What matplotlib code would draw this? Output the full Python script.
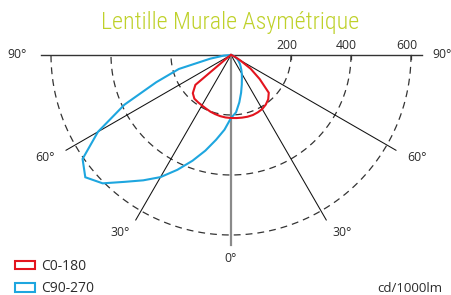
import numpy as np
import matplotlib
matplotlib.use("Agg")
import matplotlib.pyplot as plt
from matplotlib.patches import Patch
from matplotlib import font_manager as fm

# ---- data (cd/1000lm), angles measured from nadir ----
ANGLES = [0, 5, 10, 15, 20, 25, 30, 35, 40, 45, 50, 55, 60, 65, 70, 75, 80, 85, 90]
C0 = [210, 211, 212, 213, 213, 211, 208, 202, 193, 178, 125, 80, 35, 15, 5, 2, 0, 0, 0]
C180 = [210, 209, 207, 204, 201, 197, 194, 192, 190, 180, 155, 10, 0, 0, 0, 0, 0, 0, 0]
C90 = [210, 192, 160, 130, 105, 86, 72, 60, 50, 42, 34, 27, 20, 14, 9, 5, 3, 1, 0]
C270 = [210, 250, 287, 330, 375, 422, 470, 510, 552, 605, 634, 604, 512, 392, 265, 180, 70, 25, 0]

RINGS = [200, 400, 600]
RING_LABELS = ["200", "400", "600"]
RADIAL_ANGLES = [30, 60]
ANGLE_LABELS = ["0°", "30°", "60°", "90°"]
SERIES_LABELS = ["C0-180", "C90-270"]
UNIT = "cd/1000lm"
TITLE = "Lentille Murale Asymétrique"

RED = "#e3141e"
BLUE = "#1ea6df"
TXT = "#2b2b2b"
LBL_FONT = ["Open Sans", "DejaVu Sans"]

# pick a narrow font for the title if one is installed
installed = {f.name for f in fm.fontManager.ttflist}
title_family = None
for cand in ["Liberation Sans Narrow", "Roboto Condensed", "Open Sans Condensed",
             "DejaVu Sans Condensed", "Noto Sans Condensed", "Arial Narrow"]:
    if cand in installed:
        title_family = cand
        break
title_stretch = "normal"
if title_family is None:
    for f in fm.fontManager.ttflist:
        if f.name in ("Roboto", "Noto Sans", "Open Sans", "DejaVu Sans") and \
                str(f.stretch) in ("condensed", "semi-condensed", "75", "87"):
            title_family = f.name
            title_stretch = "condensed"
            break
if title_family is None:
    title_family = "Open Sans"


def to_xy(theta_deg, r):
    t = np.radians(np.asarray(theta_deg, dtype=float))
    r = np.asarray(r, dtype=float)
    return r * np.sin(t), -r * np.cos(t)


def full_curve(left, right):
    a = np.asarray(ANGLES)
    th = np.concatenate([-a[::-1], a[1:]])
    rr = np.concatenate([np.asarray(left)[::-1], np.asarray(right)[1:]])
    return th, rr


fig = plt.figure(figsize=(4.51, 2.95), dpi=100)
ax = fig.add_axes([0, 0, 1, 1])
ax.set_xlim(-770, 733.33)
ax.set_ylim(-800, 183.33)
ax.axis("off")

RMAX = 635

# dashed rings (lower half), drawn from right to left
arc = np.linspace(90, -90, 400)
for r in RINGS:
    x, y = to_xy(arc, np.full_like(arc, r))
    ax.plot(x, y, color="#333333", lw=0.9, linestyle=(0, (5.5, 4.0)), zorder=1)

# radial lines
for a in RADIAL_ANGLES:
    for s in (-1, 1):
        x, y = to_xy([0, s * a], [0, RMAX])
        ax.plot(x, y, color="#111111", lw=0.75, zorder=2)

# 0° line
x, y = to_xy([0, 0], [0, RMAX])
ax.plot(x, y, color="#8a8a8a", lw=1.6, zorder=2)

# 90° line
x, y = to_xy([-90, 90], [RMAX, RMAX])
ax.plot(x, y, color="#333333", lw=1.0, zorder=2)

# ticks and ring labels
for r, lab in zip(RINGS, RING_LABELS):
    ax.plot([r, r], [0, -12], color="#333333", lw=0.9, zorder=2)
    ax.text(r - 15, 30, lab, ha="center", va="center", fontsize=8.8,
            color=TXT, family=LBL_FONT)

# angle labels
kw = dict(ha="center", va="center", fontsize=8.8, color=TXT, family=LBL_FONT)
ax.text(0, -680, ANGLE_LABELS[0], **kw)
ax.text(-370, -592, ANGLE_LABELS[1], **kw)
ax.text(370, -592, ANGLE_LABELS[1], **kw)
ax.text(-620, -342, ANGLE_LABELS[2], **kw)
ax.text(620, -342, ANGLE_LABELS[2], **kw)
ax.text(-713, 2, ANGLE_LABELS[3], **kw)
ax.text(670, 2, ANGLE_LABELS[3], ha="left", va="center", fontsize=8.8,
        color=TXT, family=LBL_FONT)

# curves
th, rr = full_curve(C180, C0)
x, y = to_xy(th, rr)
ax.plot(x, y, color=RED, lw=1.5, zorder=4, solid_joinstyle="miter")
th, rr = full_curve(C270, C90)
x, y = to_xy(th, rr)
ax.plot(x, y, color=BLUE, lw=1.5, zorder=3, solid_joinstyle="miter")

# title, fitted to the reference width (~260 px)
title = ax.text(-3, 107, TITLE, ha="center", va="center", fontsize=19,
                color="#bfd12a", family=[title_family, "DejaVu Sans"],
                fontstretch=title_stretch, fontweight="light")
renderer = fig.canvas.get_renderer()
w = title.get_window_extent(renderer).width
if w > 262:
    title.set_fontsize(19 * 260.0 / w)

# unit
ax.text(706, -780, UNIT, ha="right", va="center", fontsize=9.5, color=TXT, family=LBL_FONT)

# legend
handles = [Patch(facecolor="white", edgecolor=RED, lw=1.5),
           Patch(facecolor="white", edgecolor=BLUE, lw=1.5)]
leg = ax.legend(handles, SERIES_LABELS, loc="lower left",
                bbox_to_anchor=(15 / 451, -0.005), frameon=False,
                prop={"family": LBL_FONT, "size": 10},
                handlelength=1.45, handleheight=0.58, handletextpad=0.4,
                labelspacing=0.55, borderpad=0, borderaxespad=0)
for t in leg.get_texts():
    t.set_color(TXT)

fig.savefig("out.png", dpi=100)
